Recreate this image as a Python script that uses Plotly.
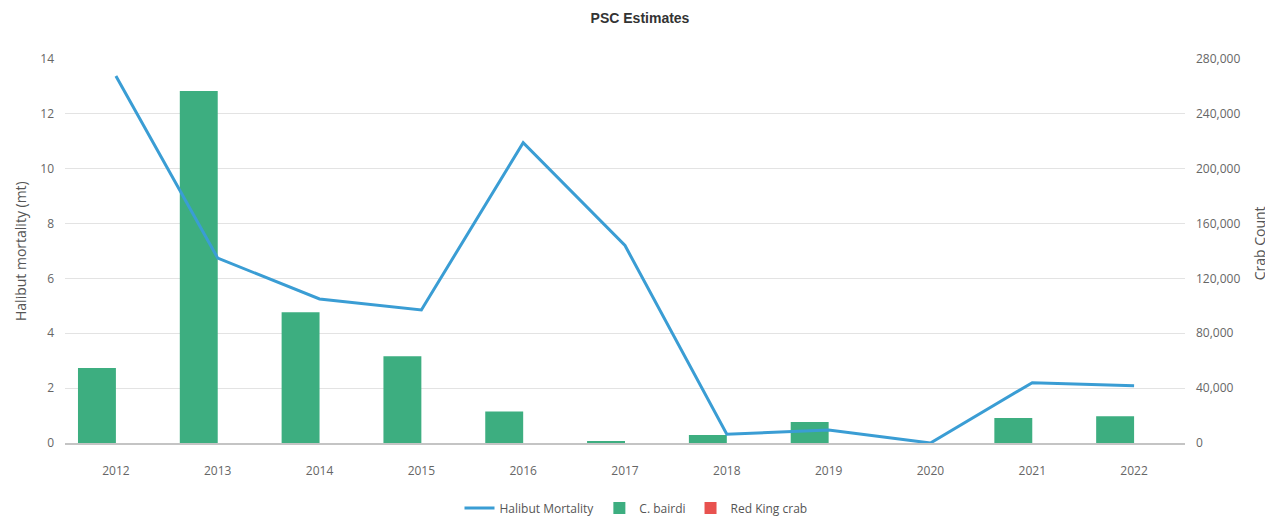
import plotly.graph_objects as go

years = ["2012", "2013", "2014", "2015", "2016", "2017", "2018", "2019", "2020", "2021", "2022"]
halibut_mortality = [13.38, 6.74, 5.25, 4.85, 10.95, 7.2, 0.32, 0.47, 0.0, 2.2, 2.09]
c_bairdi = [54700, 256700, 95300, 63200, 22900, 1100, 5800, 15300, 0, 18200, 19500]
red_king_crab = [0, 0, 0, 0, 0, 0, 0, 0, 0, 0, 0]

left_ticks = [0, 2, 4, 6, 8, 10, 12, 14]
right_ticks = [0, 40000, 80000, 120000, 160000, 200000, 240000, 280000]

# page body has an 8px margin; figure sized so it ends at the window edge
OFF = 8
W, H = 1273 - OFF, 519 - OFF
ML, MR, MT, MB = 65 - OFF, 88, 59 - OFF, 76

tick_font = dict(family="Open Sans, Noto Sans, sans-serif", size=12, color="#666666")
title_font = dict(family="Open Sans, Noto Sans, sans-serif", size=14, color="#555555")

fig = go.Figure()
fig.add_trace(go.Bar(
    x=years, y=c_bairdi, name="C. bairdi", marker_color="#3dae80",
    marker_line_width=0, yaxis="y", legendrank=2,
))
fig.add_trace(go.Bar(
    x=years, y=red_king_crab, name="Red King crab", marker_color="#e8524f",
    marker_line_width=0, yaxis="y", legendrank=3,
))
fig.add_trace(go.Scatter(
    x=years, y=halibut_mortality, name="Halibut Mortality", mode="lines",
    line=dict(color="#3a9dd4", width=3), yaxis="y2", legendrank=1,
))

pw = W - ML - MR
fig.update_layout(
    width=W, height=H,
    margin=dict(l=ML, r=MR, t=MT, b=MB, autoexpand=False),
    paper_bgcolor="white", plot_bgcolor="white",
    barmode="group", bargap=0.255, bargroupgap=0,
    title=dict(text="<b>PSC Estimates</b>", x=(640 - OFF) / W, xref="container", xanchor="center",
               y=1 - (18 - OFF) / H, yanchor="middle",
               font=dict(family="Liberation Sans Narrow, Liberation Sans, Arial, sans-serif", size=14, color="#333333")),
    xaxis=dict(
        type="category", tickfont=tick_font, showgrid=False, automargin=False,
        showline=True, linecolor="#c4c4c4", linewidth=1.5,
        ticks="", ticklabelstandoff=16,
    ),
    yaxis=dict(
        side="right", range=[0, 280000], tickvals=right_ticks, automargin=False,
        tickformat=",d", tickfont=tick_font,
        showgrid=True, gridcolor="#e3e3e3", gridwidth=1, zeroline=False,
        ticklabelstandoff=10,
    ),
    yaxis2=dict(
        side="left", overlaying="y", range=[0, 14], tickvals=left_ticks, automargin=False,
        tickfont=tick_font, showgrid=False, zeroline=False,
        ticklabelstandoff=10,
    ),
    legend=dict(
        orientation="h", xref="container", x=(636 - OFF) / W, xanchor="center", yref="container",
        y=1 - (508 - OFF) / H, yanchor="middle",
        font=dict(family="Open Sans, Noto Sans, sans-serif", size=12, color="#555555"),
        traceorder="normal", itemwidth=30,
    ),
    showlegend=True,
    annotations=[
        dict(text="Halibut mortality (mt)", textangle=-90, xref="paper", yref="paper",
             x=(20 - OFF - ML) / pw, y=0.5, xanchor="center", yanchor="middle", showarrow=False,
             font=title_font),
        dict(text="Crab Count", textangle=-90, xref="paper", yref="paper",
             x=(1259 - OFF - ML) / pw, y=0.52, xanchor="center", yanchor="middle", showarrow=False,
             font=title_font),
    ],
)

fig.write_html("out.html")
